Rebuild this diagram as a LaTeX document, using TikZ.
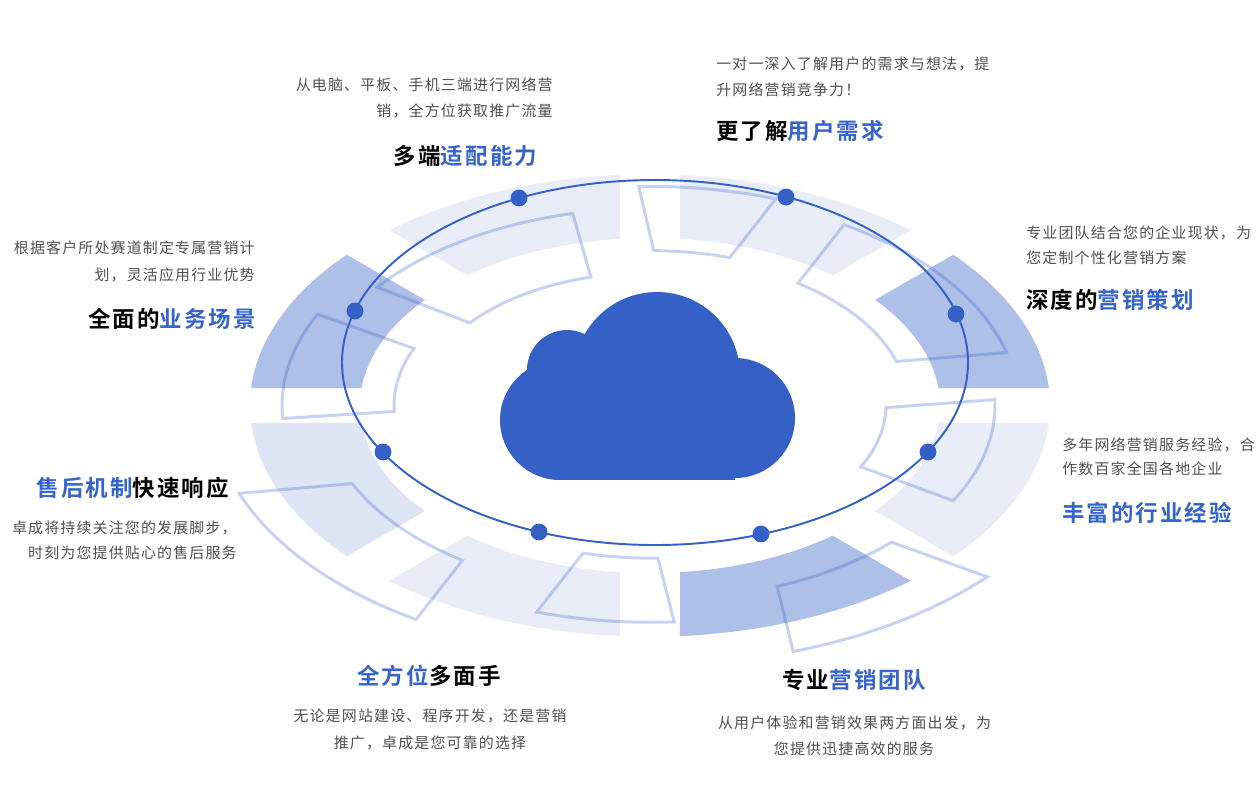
\documentclass[tikz,border=0pt]{standalone}
\usepackage{fontspec}
\setmainfont{Noto Sans CJK SC}
\newfontfamily\descfont{Noto Sans CJK SC}[LetterSpace=8]
\newfontfamily\headfont{Noto Sans CJK SC Bold}[LetterSpace=9]
\definecolor{brand}{RGB}{53,96,198}
\definecolor{headblue}{RGB}{55,100,202}
\definecolor{descgray}{RGB}{80,80,80}

\begin{document}
\begin{tikzpicture}[x=0.02cm, y=-0.02cm,
	desc/.style={inner sep=0pt, text=descgray, font=\descfont\fontsize{8.5}{10}\selectfont},
	head/.style={inner sep=0pt, text=black, font=\headfont\fontsize{12.8}{14}\selectfont},
	rim/.style={draw=brand, draw opacity=0.28, line width=1.7pt},
	ring/.style={draw=brand, line width=1.1pt},
	dot/.style={circle, fill=brand, inner sep=0pt, minimum size=9.6pt}]
	\useasboundingbox (0,0) rectangle (1260,806);
	\fill[white] (0,0) rectangle (1260,806);

	% bands and frames round the cloud
	\begin{scope}[shift={(650,405.5)}, yscale=-0.578]
		\foreach \a/\op in {0/0.40, 45/0.11, 90/0.11, 135/0.40, 180/0.16, 225/0.11, 270/0.40, 315/0.11}
			\fill[brand, fill opacity=\op] ({\a+4.3}:400) arc[start angle=\a+4.3, end angle=\a+40.7, radius=400]
				-- ({\a+39.06}:290) arc[start angle=\a+39.06, end angle=\a+5.94, radius=290] -- cycle;
		\foreach \oa/\ob/\ia/\ib/\ro/\ri in {103.1/143.1/104.9/141.6/341/230, 70.6/91.7/72.7/89.2/379/268,
				14.4/58.2/17.2/55.0/368/258, -28.5/1.7/-26.7/-0.9/345/236, -71.4/-41.3/-67.9/-44.4/449/338,
				-107.6/-86.3/-104.7/-88.3/375/264, 200.3/237.7/204.4/235/438/327, 154.6/183.5/157.3/182.3/368/256}
			\draw[rim] (\oa:\ro) arc[start angle=\oa, end angle=\ob, radius=\ro]
				-- (\ib:\ri) arc[start angle=\ib, end angle=\ia, radius=\ri] -- cycle;
	\end{scope}

	\draw[ring] (655,362.5) ellipse[x radius=313, y radius=182.5];
	\foreach \p [count=\i] in {(519,198), (786,197), (956,314), (928,452), (761,534), (539,532), (383,452), (355,311)}
		\node[dot] (d\i) at \p {};

	% cloud
	\fill[brand] (560,420) circle[radius=60] (567,370) circle[radius=40] (657,375) circle[radius=83] (735,418) circle[radius=60];
	\fill[brand] (560,360) rectangle (735,480);

	% texts
	\node[desc, anchor=east] (tl1) at (553,85) {从电脑、平板、手机三端进行网络营};
	\node[desc, anchor=east] (tl2) at (553,111) {销，全方位获取推广流量};
	\node[head] (tlh) at (465.5,156) {多端\textcolor{headblue}{适配能力}};

	\node[desc, anchor=west] (tr1) at (716,64) {一对一深入了解用户的需求与想法，提};
	\node[desc, anchor=west] (tr2) at (716,90) {升网络营销竞争力！};
	\node[head, anchor=west] (trh) at (716,131) {更了解\textcolor{headblue}{用户需求}};

	\node[desc, anchor=west] (ru1) at (1026,233) {专业团队结合您的企业现状，为};
	\node[desc, anchor=west] (ru2) at (1026,258) {您定制个性化营销方案};
	\node[head, anchor=west] (ruh) at (1026,300) {深度的\textcolor{headblue}{营销策划}};

	\node[desc, anchor=west] (rl1) at (1062,445) {多年网络营销服务经验，合};
	\node[desc, anchor=west] (rl2) at (1062,469) {作数百家全国各地企业};
	\node[head, anchor=west, text=headblue] (rlh) at (1062,513) {丰富的行业经验};

	\node[head] (brh) at (854,680) {专业\textcolor{headblue}{营销团队}};
	\node[desc] (br1) at (854.5,723) {从用户体验和营销效果两方面出发，为};
	\node[desc] (br2) at (854,749) {您提供迅捷高效的服务};

	\node[head] (blh) at (429,676) {\textcolor{headblue}{全方位}多面手};
	\node[desc] (bl1) at (430,716) {无论是网站建设、程序开发，还是营销};
	\node[desc] (bl2) at (430,743) {推广，卓成是您可靠的选择};

	\node[head, anchor=east] (llh) at (229,488) {\textcolor{headblue}{售后机制}快速响应};
	\node[desc, anchor=east] (ll1) at (237,528) {卓成将持续关注您的发展脚步，};
	\node[desc, anchor=east] (ll2) at (237,553) {时刻为您提供贴心的售后服务};

	\node[desc, anchor=east] (lu1) at (255,248) {根据客户所处赛道制定专属营销计};
	\node[desc, anchor=east] (lu2) at (255,275) {划，灵活应用行业优势};
	\node[head, anchor=east] (luh) at (256,319) {全面的\textcolor{headblue}{业务场景}};
\end{tikzpicture}
\end{document}
